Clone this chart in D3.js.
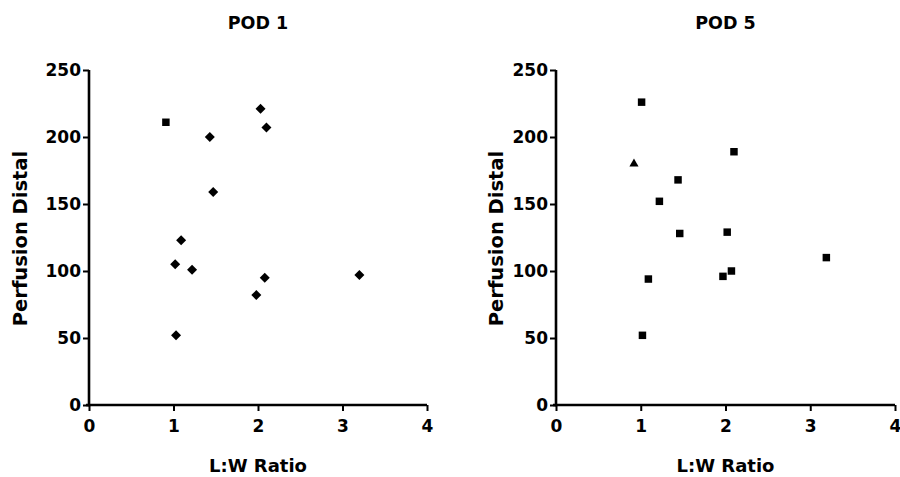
<!DOCTYPE html>
<html>
<head>
<meta charset="utf-8">
<script src="https://cdn.jsdelivr.net/npm/d3@7"></script>
<style>
  html, body { margin: 0; padding: 0; background: #fff; }
  svg { display: block; font-family: "DejaVu Sans", Verdana, sans-serif; }
</style>
</head>
<body>
<svg id="chart" width="900" height="477"></svg>
<script>
// Perfusion (distal) versus length:width ratio, post-operative day 1 and day 5
const panelTitles = ["POD 1", "POD 5"];
const xTicks = [0, 1, 2, 3, 4];
const yTicks = [0, 50, 100, 150, 200, 250];
const xLabel = "L:W Ratio";
const yLabel = "Perfusion Distal";

const pod1Ratio     = [0.91, 1.43, 2.03, 2.10, 1.47, 1.09, 1.02, 1.22, 2.08, 1.98, 1.03, 3.20];
const pod1Perfusion = [211, 200, 221, 207, 159, 123, 105, 101, 95, 82, 52, 97];
const pod1Symbol    = ["square", "diamond", "diamond", "diamond", "diamond", "diamond",
                       "diamond", "diamond", "diamond", "diamond", "diamond", "diamond"];

const pod5Ratio     = [1.01, 0.92, 2.10, 1.44, 1.22, 1.46, 2.02, 1.09, 1.97, 2.07, 1.02, 3.19];
const pod5Perfusion = [226, 180, 189, 168, 152, 128, 129, 94, 96, 100, 52, 110];
const pod5Symbol    = ["square", "triangle", "square", "square", "square", "square",
                       "square", "square", "square", "square", "square", "square"];

const panels = [
  { title: panelTitles[0], xs: pod1Ratio, ys: pod1Perfusion, sym: pod1Symbol,
    left: 89, right: 427, yLabelX: 27 },
  { title: panelTitles[1], xs: pod5Ratio, ys: pod5Perfusion, sym: pod5Symbol,
    left: 556, right: 895, yLabelX: 503 }
];

const plotTop = 70, plotBottom = 405;
const svg = d3.select("#chart");

// marker shapes; a diamond is a square turned by 45 degrees
const markers = {
  square:   { type: d3.symbolSquare,   size: 56, rotate: 0 },
  diamond:  { type: d3.symbolSquare,   size: 50, rotate: 45 },
  triangle: { type: d3.symbolTriangle, size: 36, rotate: 0 }
};

panels.forEach(p => {
  const x = d3.scaleLinear().domain([0, 4]).range([p.left, p.right]);
  const y = d3.scaleLinear().domain([0, 250]).range([plotBottom, plotTop]);
  const g = svg.append("g");

  // x axis
  const xAxis = g.append("g")
    .attr("transform", `translate(0,${plotBottom})`)
    .call(d3.axisBottom(x).tickValues(xTicks).tickFormat(d3.format("d"))
      .tickSizeOuter(0).tickSize(6).tickPadding(9));
  // y axis
  const yAxis = g.append("g")
    .attr("transform", `translate(${p.left},0)`)
    .call(d3.axisLeft(y).tickValues(yTicks).tickFormat(d3.format("d"))
      .tickSizeOuter(0).tickSize(6).tickPadding(2));

  [xAxis, yAxis].forEach(a => {
    a.select(".domain").attr("stroke", "#000").attr("stroke-width", 2.6);
    a.selectAll(".tick line").attr("stroke", "#000").attr("stroke-width", 2);
    a.selectAll(".tick text")
      .attr("fill", "#000")
      .style("font-family", "'DejaVu Sans', sans-serif")
      .style("font-size", "17px")
      .style("font-weight", "bold");
  });
  // close the corner where the two axes meet
  xAxis.select(".domain").attr("d", `M${p.left - 3},0H${p.right}`);
  yAxis.select(".domain").attr("d", `M0,${plotTop}V${plotBottom + 1.3}`);

  // points
  g.selectAll("path.pt")
    .data(p.xs.map((v, i) => ({ x: v, y: p.ys[i], m: markers[p.sym[i]] })))
    .enter().append("path")
    .attr("class", "pt")
    .attr("transform", d => `translate(${x(d.x)},${y(d.y)}) rotate(${d.m.rotate})`)
    .attr("d", d => d3.symbol().type(d.m.type).size(d.m.size)())
    .attr("fill", "#000");

  const cx = (p.left + p.right) / 2;
  // title
  g.append("text")
    .attr("x", cx).attr("y", 29)
    .attr("text-anchor", "middle")
    .style("font-size", "17.5px").style("font-weight", "bold")
    .text(p.title);
  // x label
  g.append("text")
    .attr("x", cx).attr("y", 472)
    .attr("text-anchor", "middle")
    .style("font-size", "18px").style("font-weight", "bold")
    .text(xLabel);
  // y label
  g.append("text")
    .attr("transform", `translate(${p.yLabelX},${(plotTop + plotBottom) / 2 + 1}) rotate(-90)`)
    .attr("text-anchor", "middle")
    .style("font-size", "19.5px").style("font-weight", "bold")
    .text(yLabel);
});
</script>
</body>
</html>
